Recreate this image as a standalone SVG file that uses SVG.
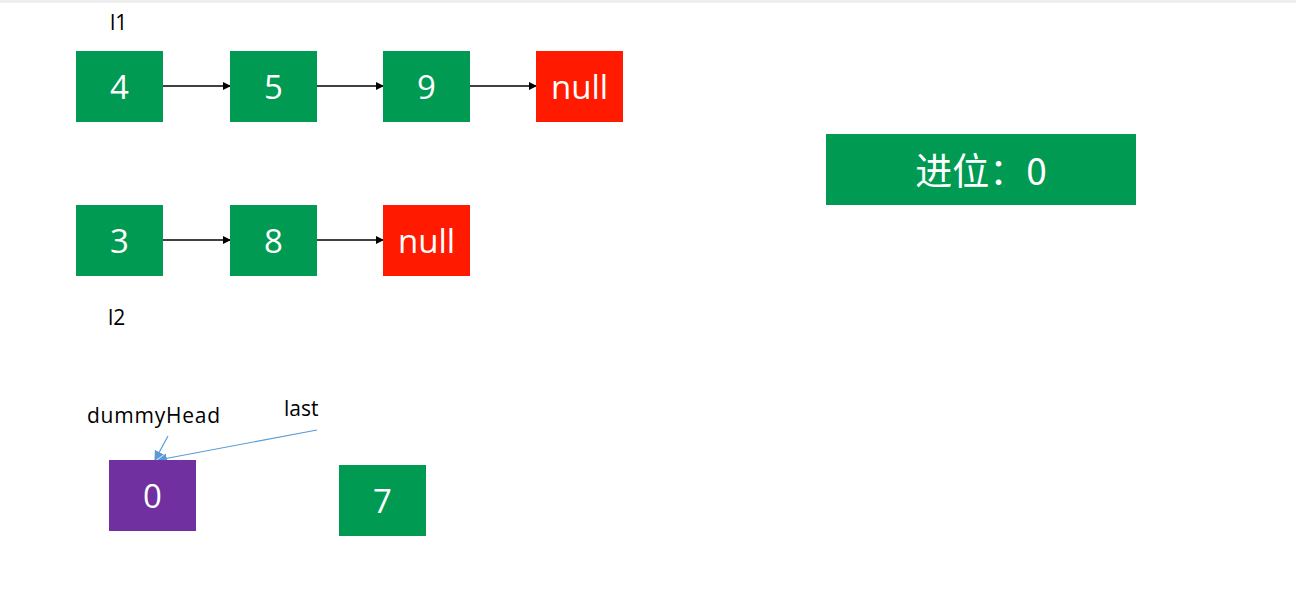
<svg xmlns="http://www.w3.org/2000/svg" width="1296" height="597" viewBox="0 0 1296 597">
<style>
.g{fill:#009A52}.r{fill:#FF1A00}.p{fill:#7030A0}
.t{font-family:"Open Sans","Liberation Sans",sans-serif;font-size:33px;fill:#fff;text-anchor:middle}
.l{font-family:"Open Sans","Liberation Sans",sans-serif;font-size:21px;fill:#000}
.c{stroke:#000;stroke-width:1.5;fill:none;marker-end:url(#ah)}
.b{stroke:#5B9BD5;stroke-width:1.2;fill:none;marker-end:url(#bh)}
</style>
<defs>
<marker id="ah" markerWidth="8" markerHeight="8" refX="7" refY="4" orient="auto" markerUnits="userSpaceOnUse"><path d="M0,0 L8,4 L0,8 z" fill="#000"/></marker>
<marker id="bh" markerWidth="10" markerHeight="10" refX="9" refY="5" orient="auto" markerUnits="userSpaceOnUse"><path d="M0,0 L10,5 L0,10 z" fill="#5B9BD5"/></marker>
</defs>
<rect width="1296" height="597" fill="#fff"/>
<rect x="0" y="0" width="1296" height="3" fill="#eeeeee"/>
<text class="l" x="110" y="30">l1</text>
<text class="l" x="108" y="325">l2</text>
<text class="l" x="87" y="423" textLength="133">dummyHead</text>
<text class="l" x="284" y="416">last</text>
<g id="connectors">
<line class="c" x1="163" y1="86" x2="230" y2="86"/>
<line class="c" x1="317" y1="86" x2="383" y2="86"/>
<line class="c" x1="470" y1="86" x2="536" y2="86"/>
<line class="c" x1="163" y1="240" x2="230" y2="240"/>
<line class="c" x1="317" y1="240" x2="383" y2="240"/>
<line class="b" x1="168" y1="436" x2="155" y2="460"/>
<line class="b" x1="317" y1="430" x2="158" y2="460"/>
</g>
<g id="n4"><rect class="g" x="76" y="51" width="87" height="71"/><text class="t" x="119.5" y="99">4</text></g>
<g id="n5"><rect class="g" x="230" y="51" width="87" height="71"/><text class="t" x="273.5" y="99">5</text></g>
<g id="n9"><rect class="g" x="383" y="51" width="87" height="71"/><text class="t" x="426.5" y="99">9</text></g>
<g id="null1"><rect class="r" x="536" y="51" width="87" height="71"/><text class="t" x="579.5" y="99">null</text></g>
<g id="n3"><rect class="g" x="76" y="205" width="87" height="71"/><text class="t" x="119.5" y="253">3</text></g>
<g id="n8"><rect class="g" x="230" y="205" width="87" height="71"/><text class="t" x="273.5" y="253">8</text></g>
<g id="null2"><rect class="r" x="383" y="205" width="87" height="71"/><text class="t" x="426.5" y="253">null</text></g>
<g id="n0"><rect class="p" x="109" y="460" width="87" height="71"/><text class="t" x="152.5" y="508">0</text></g>
<g id="n7"><rect class="g" x="339" y="465" width="87" height="71"/><text class="t" x="382.5" y="513">7</text></g>
<g id="carry"><rect class="g" x="826" y="134" width="310" height="71"/><text class="t" x="981" y="185" style="font-family:'Noto Sans CJK SC','Open Sans',sans-serif;font-size:37px">进位：0</text></g>
</svg>
